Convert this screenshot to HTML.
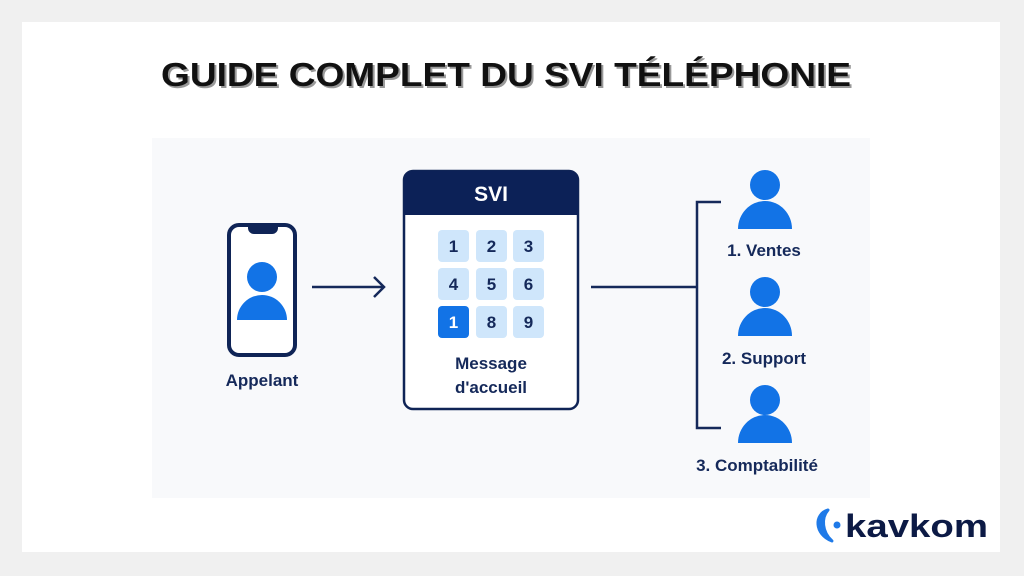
<!DOCTYPE html>
<html><head><meta charset="utf-8"><style>
html,body{margin:0;padding:0;background:#f0f0f0;}
svg{display:block;}
text{font-family:"Liberation Sans",sans-serif;}
</style></head><body>
<svg width="1024" height="576" viewBox="0 0 1024 576" xmlns="http://www.w3.org/2000/svg">
<rect x="0" y="0" width="1024" height="576" fill="#f0f0f0"/>
<rect x="22" y="22" width="978" height="530" fill="#ffffff"/>
<rect x="152" y="138" width="718" height="360" fill="#f8f9fb"/>
<!-- title -->
<text x="508" y="88" text-anchor="middle" font-size="33" font-weight="bold" fill="#999" textLength="690" lengthAdjust="spacingAndGlyphs">GUIDE COMPLET DU SVI TÉLÉPHONIE</text>
<text x="506" y="86" text-anchor="middle" font-size="33" font-weight="bold" fill="#111" textLength="690" lengthAdjust="spacingAndGlyphs">GUIDE COMPLET DU SVI TÉLÉPHONIE</text>
<!-- phone -->
<rect x="229" y="225" width="66" height="130" rx="10" fill="#fff" stroke="#0f2456" stroke-width="4"/>
<path d="M248 225 h30 v3 a6 6 0 0 1 -6 6 h-18 a6 6 0 0 1 -6 -6z" fill="#0f2456"/>
<circle cx="262" cy="277" r="15" fill="#1273e6"/>
<path d="M237 320 a25 25 0 0 1 50 0z" fill="#1273e6"/>
<text x="262" y="386" text-anchor="middle" font-size="17" font-weight="bold" fill="#15295a">Appelant</text>
<!-- arrow -->
<line x1="312" y1="287" x2="384" y2="287" stroke="#15295a" stroke-width="2.5"/>
<polyline points="374,277 384,287 374,297" fill="none" stroke="#15295a" stroke-width="2.5"/>
<!-- SVI box -->
<rect x="404" y="171" width="174" height="238" rx="9" fill="#fff" stroke="#0f2456" stroke-width="2.5"/>
<path d="M404 215 V180 a9 9 0 0 1 9 -9 h156 a9 9 0 0 1 9 9 V215z" fill="#0c2157"/>
<text x="491" y="201" text-anchor="middle" font-size="21" font-weight="bold" fill="#fff">SVI</text>
<g font-size="17" font-weight="bold" text-anchor="middle" fill="#15295a">
<rect x="438" y="230" width="31" height="32" rx="4" fill="#cfe6fb"/><text x="453.5" y="252">1</text>
<rect x="476" y="230" width="31" height="32" rx="4" fill="#cfe6fb"/><text x="491.5" y="252">2</text>
<rect x="513" y="230" width="31" height="32" rx="4" fill="#cfe6fb"/><text x="528.5" y="252">3</text>
<rect x="438" y="268" width="31" height="32" rx="4" fill="#cfe6fb"/><text x="453.5" y="290">4</text>
<rect x="476" y="268" width="31" height="32" rx="4" fill="#cfe6fb"/><text x="491.5" y="290">5</text>
<rect x="513" y="268" width="31" height="32" rx="4" fill="#cfe6fb"/><text x="528.5" y="290">6</text>
<rect x="438" y="306" width="31" height="32" rx="4" fill="#1273e6"/><text x="453.5" y="328" fill="#fff">1</text>
<rect x="476" y="306" width="31" height="32" rx="4" fill="#cfe6fb"/><text x="491.5" y="328">8</text>
<rect x="513" y="306" width="31" height="32" rx="4" fill="#cfe6fb"/><text x="528.5" y="328">9</text>
</g>
<text x="491" y="369" text-anchor="middle" font-size="17" fill="#15295a" font-weight="bold">Message</text>
<text x="491" y="393" text-anchor="middle" font-size="17" fill="#15295a" font-weight="bold">d'accueil</text>
<!-- connectors -->
<line x1="591" y1="287" x2="697" y2="287" stroke="#15295a" stroke-width="2.5"/>
<path d="M721 202 H697 V428 H721" fill="none" stroke="#15295a" stroke-width="2.5"/>
<!-- persons -->
<g fill="#1273e6">
<circle cx="765" cy="185" r="15"/><path d="M738 229 a27 28 0 0 1 54 0z"/>
<circle cx="765" cy="292" r="15"/><path d="M738 336 a27 28 0 0 1 54 0z"/>
<circle cx="765" cy="400" r="15"/><path d="M738 443 a27 28 0 0 1 54 0z"/>
</g>
<g font-size="17" font-weight="bold" fill="#15295a" text-anchor="middle">
<text x="764" y="256">1. Ventes</text>
<text x="764" y="364">2. Support</text>
<text x="757" y="471">3. Comptabilité</text>
</g>
<!-- logo -->
<path d="M828 510 C814 514 814 534 832 541 C822 532 821 518 828 510z" fill="#1f7ae8" stroke="#1f7ae8" stroke-width="3" stroke-linejoin="round"/>
<circle cx="837" cy="525" r="3.5" fill="#1f7ae8"/>
<text x="845" y="537" font-size="32" font-weight="bold" fill="#0c1a45" textLength="143" lengthAdjust="spacingAndGlyphs">kavkom</text>
</svg>
</body></html>
